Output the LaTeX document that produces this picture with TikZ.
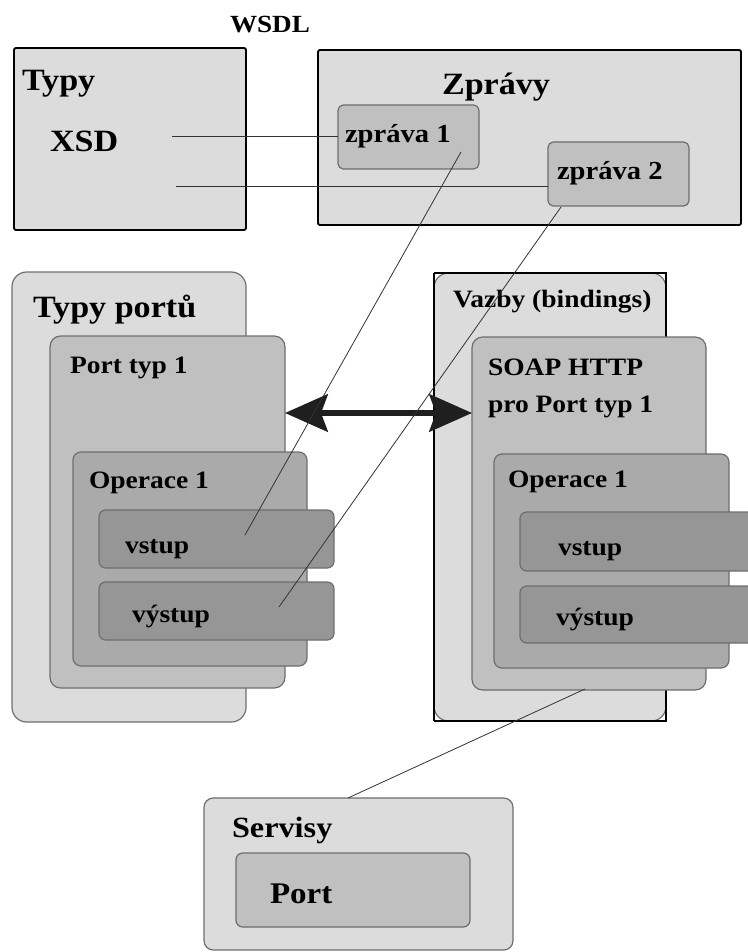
\documentclass[tikz,border=0pt]{standalone}
\usepackage{fontspec}
\setmainfont{Liberation Serif}[FakeStretch=1.1]
\usetikzlibrary{fit,arrows.meta}

\definecolor{paneA}{HTML}{DCDCDC}
\definecolor{paneB}{HTML}{C0C0C0}
\definecolor{paneC}{HTML}{AAAAAA}
\definecolor{paneD}{HTML}{969696}
\definecolor{edgegray}{HTML}{6E6E6E}

\tikzset{
  pane/.style={draw=edgegray, line width=0.9pt, inner sep=0pt, outer sep=0pt},
  hardpane/.style={draw=black, line width=1.4pt, fill=paneA, rounded corners=1.5pt, inner sep=0pt, outer sep=0pt},
  lbl/.style={anchor=base west, inner sep=0pt, outer sep=0pt, text=black,
              font=\bfseries\fontsize{18.75}{21}\selectfont},
  biglbl/.style={lbl, font=\bfseries\fontsize{23.25}{26}\selectfont},
  msglbl/.style={lbl, font=\bfseries\fontsize{19.5}{22}\selectfont},
  wire/.style={line width=0.6pt, draw=black!80},
  link/.style={line width=4.4pt, draw=black!88,
               {Stealth[length=32pt,width=28pt,inset=5pt]}-{Stealth[length=32pt,width=28pt,inset=5pt]}}
}

\begin{document}
\begin{tikzpicture}[x=0.75pt,y=-0.75pt]
\useasboundingbox (0,0) rectangle (747,952);

% title
\node[lbl, font=\bfseries\fontsize{18.5}{20}\selectfont] (wsdl) at (230,33) {WSDL};

% types and messages
\node[hardpane, fit={(14,48) (246,230)}] (typy) {};
\node[biglbl] (typyT) at (22,91) {Typy};
\node[biglbl] (xsd) at (50,152) {XSD};

\node[hardpane, fit={(318,50) (741,225)}] (zpravy) {};
\node[biglbl] (zpravyT) at (442,95) {Zprávy};
\node[pane, fill=paneB, rounded corners=4pt, fit={(338,105) (479,169)}] (msg1) {};
\node[msglbl] (msg1T) at (345,143) {zpráva 1};
\node[pane, fill=paneB, rounded corners=4pt, fit={(548,142) (689,206)}] (msg2) {};
\node[msglbl] (msg2T) at (557,180) {zpráva 2};

\coordinate (xsdA) at (172,136);
\coordinate (xsdB) at (176,186);
\draw[wire] (xsdA) -- (xsdA -| msg1.west);
\draw[wire] (xsdB) -- (xsdB -| msg2.west);

% port types
\node[pane, fill=paneA, rounded corners=11pt, fit={(12,272) (246,722)}] (ptypes) {};
\node[biglbl] (ptypesT) at (33,317) {Typy portů};
\node[pane, fill=paneB, rounded corners=8pt, fit={(50,336) (285,688)}] (pt1) {};
\node[lbl] (pt1T) at (70,373) {Port typ 1};
\node[pane, fill=paneC, rounded corners=6pt, fit={(73,452) (307,666)}] (opL) {};
\node[lbl] (opLT) at (89,488) {Operace 1};
\node[pane, fill=paneD, rounded corners=5pt, fit={(99,510) (334,568)}] (inL) {};
\node[lbl] (inLT) at (125,553) {vstup};
\node[pane, fill=paneD, rounded corners=5pt, fit={(99,582) (334,640)}] (outL) {};
\node[lbl] (outLT) at (132,622) {výstup};

% bindings
\node[pane, fill=paneA, rounded corners=11pt, fit={(434,273) (666,721)}] (bind) {};
\draw[black, line width=0.9pt] (bind.north west) -- (bind.north east) -- (bind.south east) -- (bind.south west);
\draw[black, line width=2.2pt] (bind.north west) -- (bind.south west);
\node[lbl] (bindT) at (453,307) {Vazby (bindings)};
\node[pane, fill=paneB, rounded corners=8pt, fit={(472,337) (706,690)}] (soap) {};
\node[lbl] (soapT) at (488,375) {SOAP HTTP};
\node[lbl] (soapT2) at (488,412) {pro Port typ 1};
\node[pane, fill=paneC, rounded corners=6pt, fit={(494,454) (729,668)}] (opR) {};
\node[lbl] (opRT) at (508,487) {Operace 1};
\node[pane, fill=paneD, rounded corners=5pt, fit={(520,512) (760,571)}] (inR) {};
\node[lbl] (inRT) at (558,555) {vstup};
\node[pane, fill=paneD, rounded corners=5pt, fit={(520,586) (760,643)}] (outR) {};
\node[lbl] (outRT) at (556,625) {výstup};

% services
\node[pane, fill=paneA, rounded corners=7pt, fit={(204,798) (513,950)}] (serv) {};
\node[lbl, font=\bfseries\fontsize{22}{24}\selectfont] (servT) at (232,837) {Servisy};
\node[pane, fill=paneB, rounded corners=5pt, fit={(236,853) (470,927)}] (port) {};
\node[lbl, font=\bfseries\fontsize{22.5}{24}\selectfont] (portT) at (270,903) {Port};

% port type <-> binding
\coordinate (linkLevel) at (0,413);
\draw[link] (pt1.east |- linkLevel) -- (soap.west |- linkLevel);

% message parts and service references
\coordinate (m1) at (461,152);
\coordinate (m2) at (561,207);
\coordinate (inEnd) at (245,535);
\coordinate (outEnd) at (279,607);
\coordinate (soapEnd) at (585,689);
\coordinate (servTop) at (348,798);
\draw[wire] (m1) -- (inEnd);
\draw[wire] (m2) -- (outEnd);
\draw[wire] (soapEnd) -- (servTop);
\end{tikzpicture}
\end{document}
